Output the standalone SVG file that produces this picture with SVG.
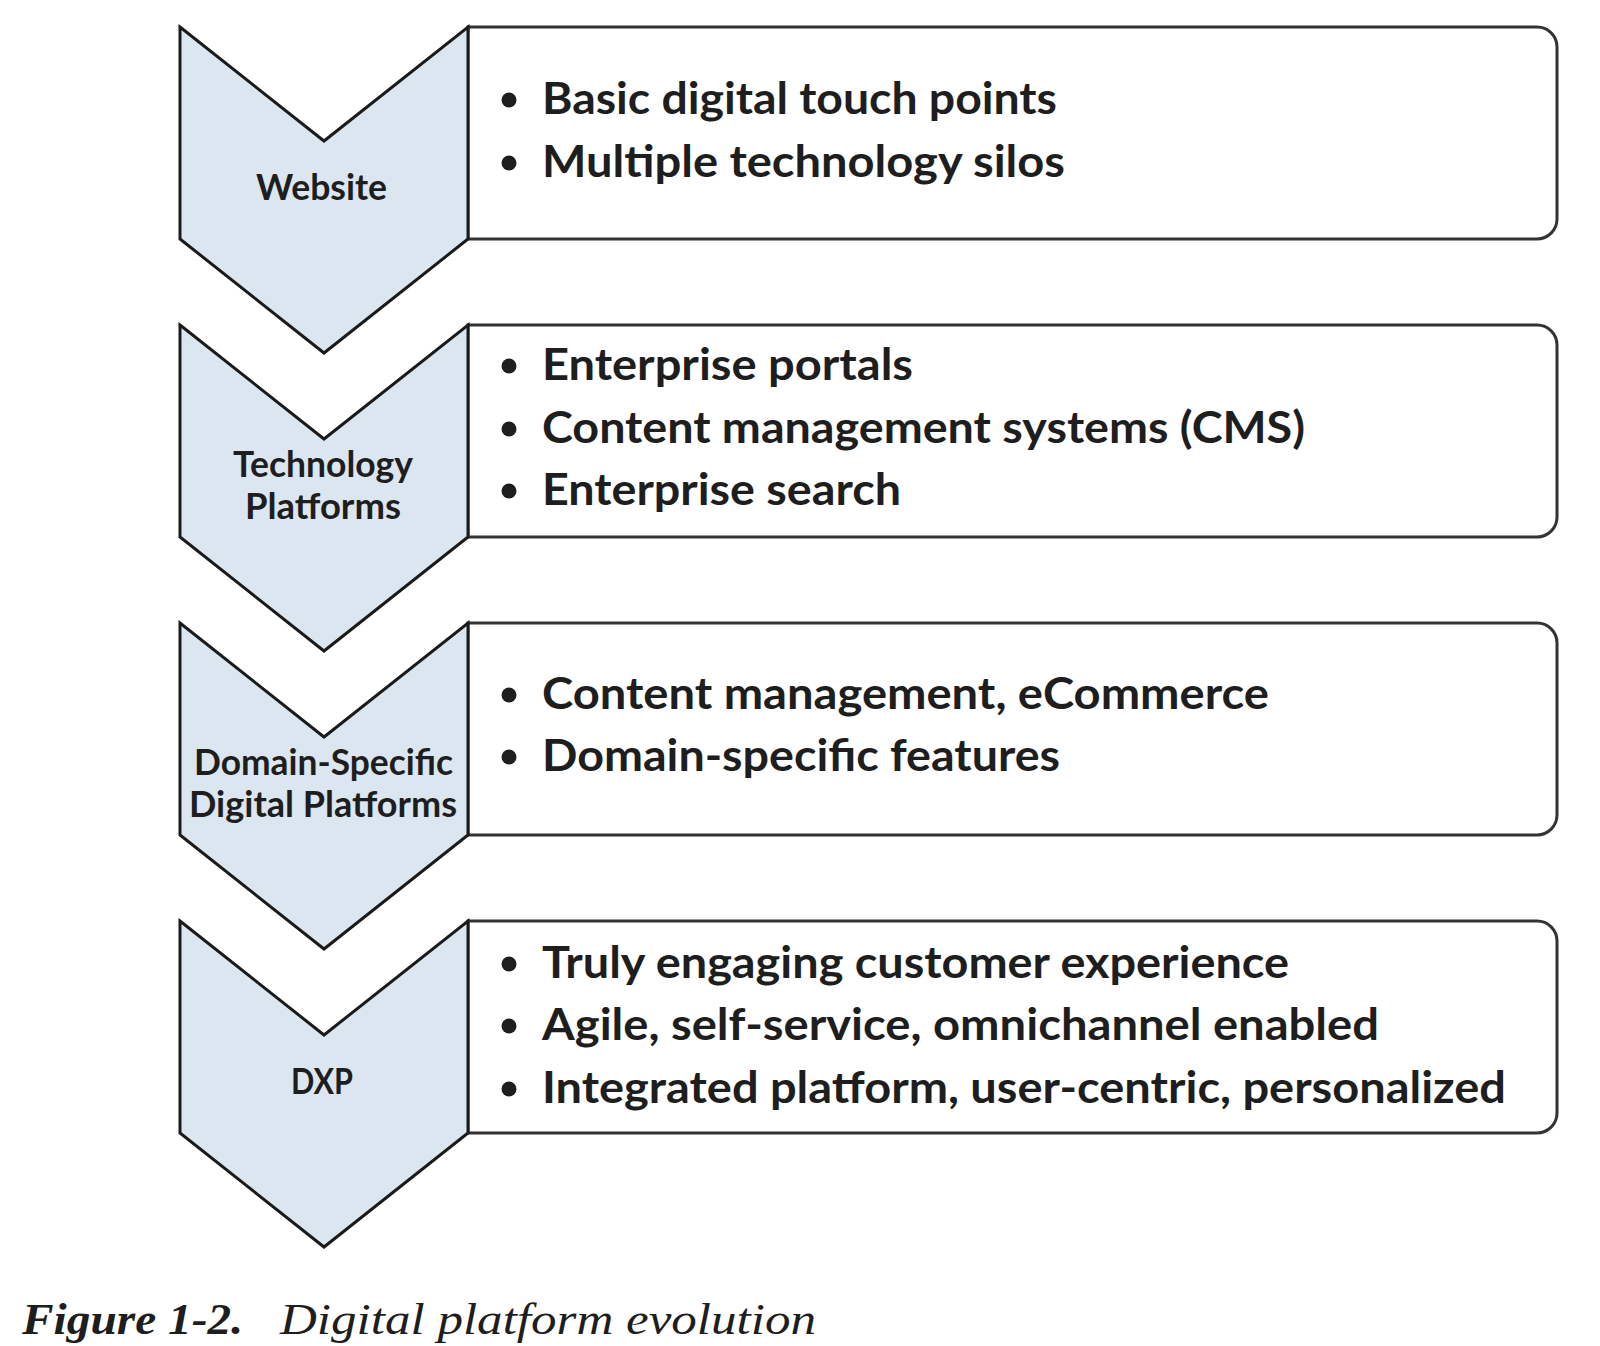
<svg xmlns="http://www.w3.org/2000/svg" width="1600" height="1346" viewBox="0 0 1600 1346">
<style>
.box{fill:#ffffff;stroke:#333333;stroke-width:3}
.chev{fill:#dce6f0;stroke:#1a1a1a;stroke-width:3;stroke-linejoin:miter}
.lbl{font-family:Lato,"Liberation Sans",sans-serif;font-weight:bold;font-size:36px;fill:#1e1e1e}
.bul{font-family:Lato,"Liberation Sans",sans-serif;font-weight:bold;font-size:43px;fill:#1e1e1e}
.dot{fill:#1e1e1e}
.cap{font-family:"Liberation Serif",serif;font-style:italic;font-size:44px;fill:#1e1e1e}
</style>
<rect width="1600" height="1346" fill="#ffffff"/>
<g id="box1">
<path class="box" d="M468,27 H1537 A20,20 0 0 1 1557,47 V219 A20,20 0 0 1 1537,239 H468 Z"/>
<circle class="dot" cx="509" cy="100" r="7.5"/>
<text class="bul" x="542" y="114" textLength="515" lengthAdjust="spacingAndGlyphs">Basic digital touch points</text>
<circle class="dot" cx="509" cy="163" r="7.5"/>
<text class="bul" x="542" y="177" textLength="523" lengthAdjust="spacingAndGlyphs">Multiple technology silos</text>
</g>
<g id="box2">
<path class="box" d="M468,325 H1537 A20,20 0 0 1 1557,345 V517 A20,20 0 0 1 1537,537 H468 Z"/>
<circle class="dot" cx="509" cy="366" r="7.5"/>
<text class="bul" x="542" y="380" textLength="371" lengthAdjust="spacingAndGlyphs">Enterprise portals</text>
<circle class="dot" cx="509" cy="429" r="7.5"/>
<text class="bul" x="542" y="443" textLength="763" lengthAdjust="spacingAndGlyphs">Content management systems (CMS)</text>
<circle class="dot" cx="509" cy="491" r="7.5"/>
<text class="bul" x="542" y="505" textLength="359" lengthAdjust="spacingAndGlyphs">Enterprise search</text>
</g>
<g id="box3">
<path class="box" d="M468,623 H1537 A20,20 0 0 1 1557,643 V815 A20,20 0 0 1 1537,835 H468 Z"/>
<circle class="dot" cx="509" cy="695" r="7.5"/>
<text class="bul" x="542" y="709" textLength="727" lengthAdjust="spacingAndGlyphs">Content management, eCommerce</text>
<circle class="dot" cx="509" cy="757" r="7.5"/>
<text class="bul" x="542" y="771" textLength="518" lengthAdjust="spacingAndGlyphs">Domain-specific features</text>
</g>
<g id="box4">
<path class="box" d="M468,921 H1537 A20,20 0 0 1 1557,941 V1113 A20,20 0 0 1 1537,1133 H468 Z"/>
<circle class="dot" cx="509" cy="964" r="7.5"/>
<text class="bul" x="542" y="978" textLength="747" lengthAdjust="spacingAndGlyphs">Truly engaging customer experience</text>
<circle class="dot" cx="509" cy="1026" r="7.5"/>
<text class="bul" x="542" y="1040" textLength="837" lengthAdjust="spacingAndGlyphs">Agile, self-service, omnichannel enabled</text>
<circle class="dot" cx="509" cy="1089" r="7.5"/>
<text class="bul" x="542" y="1103" textLength="964" lengthAdjust="spacingAndGlyphs">Integrated platform, user-centric, personalized</text>
</g>
<g id="chevron1">
<path class="chev" d="M180,27 L324,141 L468,27 V239 L324,353 L180,239 Z"/>
<text class="lbl" x="256" y="200" textLength="131" lengthAdjust="spacingAndGlyphs">Website</text>
</g>
<g id="chevron2">
<path class="chev" d="M180,325 L324,439 L468,325 V537 L324,651 L180,537 Z"/>
<text class="lbl" x="233" y="477" textLength="180" lengthAdjust="spacingAndGlyphs">Technology</text>
<text class="lbl" x="245" y="519" textLength="156" lengthAdjust="spacingAndGlyphs">Platforms</text>
</g>
<g id="chevron3">
<path class="chev" d="M180,623 L324,737 L468,623 V835 L324,949 L180,835 Z"/>
<text class="lbl" x="194" y="775" textLength="259" lengthAdjust="spacingAndGlyphs">Domain-Specific</text>
<text class="lbl" x="189" y="817" textLength="268" lengthAdjust="spacingAndGlyphs">Digital Platforms</text>
</g>
<g id="chevron4">
<path class="chev" d="M180,921 L324,1035 L468,921 V1133 L324,1247 L180,1133 Z"/>
<text class="lbl" x="291" y="1094" textLength="62" lengthAdjust="spacingAndGlyphs">DXP</text>
</g>
<g id="connectors"></g>
<g id="caption">
<text class="cap" x="22" y="1334" font-weight="bold" textLength="221" lengthAdjust="spacingAndGlyphs">Figure 1-2.</text>
<text class="cap" x="280" y="1334" textLength="536" lengthAdjust="spacingAndGlyphs">Digital platform evolution</text>
</g>
</svg>
